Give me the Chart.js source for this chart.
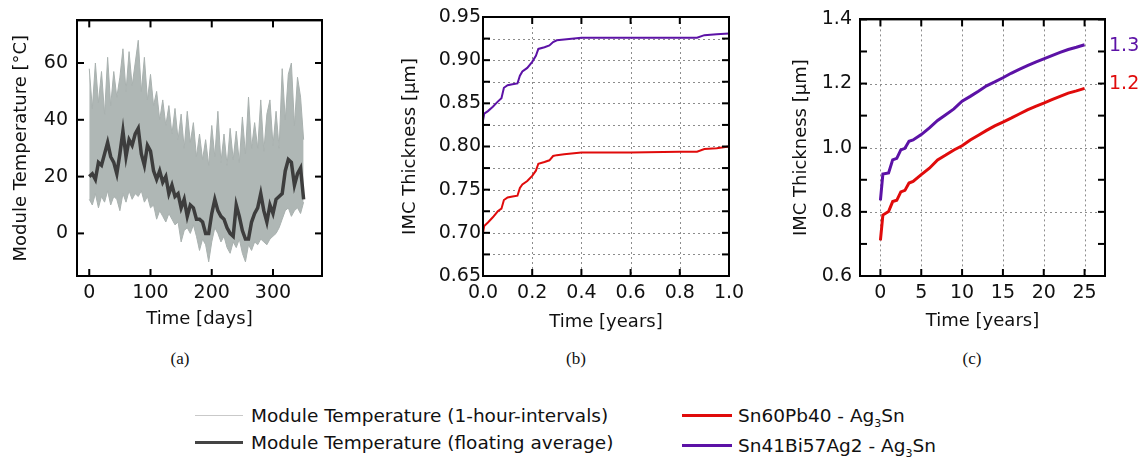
<!DOCTYPE html>
<html>
<head>
<meta charset="utf-8">
<script src="https://cdn.jsdelivr.net/npm/chart.js@4/dist/chart.umd.min.js"></script>
<style>
  body { margin: 0; background: #fff; width: 1147px; height: 459px; position: relative; overflow: hidden; font-family: "DejaVu Sans", sans-serif; }
  canvas { position: absolute; top: 0; }
  .cap { position: absolute; top: 349px; width: 40px; text-align: center; font: 17px "Liberation Serif", serif; color: #111; }
  .leg { position: absolute; height: 22px; display: flex; align-items: center; font-size: 18.5px; color: #111; white-space: nowrap; }
  .sw { display: inline-block; width: 48px; margin-right: 8px; }
  sub { font-size: 11px; vertical-align: -5px; line-height: 0; }
</style>
</head>
<body>
<canvas id="chartA" width="350" height="340" style="left:0px"></canvas>
<canvas id="chartB" width="380" height="340" style="left:380px"></canvas>
<canvas id="chartC" width="372" height="340" style="left:775px"></canvas>

<div class="cap" style="left:160px">(a)</div>
<div class="cap" style="left:556px">(b)</div>
<div class="cap" style="left:952px">(c)</div>

<div class="leg" style="left:195px;top:404px"><span class="sw" style="border-top:1px solid #c9c9c9"></span><span>Module Temperature (1-hour-intervals)</span></div>
<div class="leg" style="left:195px;top:431px"><span class="sw" style="border-top:3px solid #444"></span><span>Module Temperature (floating average)</span></div>
<div class="leg" style="left:682px;top:404px"><span class="sw" style="width:50px;margin-right:6px;border-top:3px solid #e00b0b"></span><span>Sn60Pb40 - Ag<sub>3</sub>Sn</span></div>
<div class="leg" style="left:682px;top:434px"><span class="sw" style="width:50px;margin-right:6px;border-top:3px solid #5c12a6"></span><span>Sn41Bi57Ag2 - Ag<sub>3</sub>Sn</span></div>

<script>
// ---- (a) module temperature, sampled every 5 days
const daysA = [0,5,10,15,20,25,30,35,40,45,50,55,60,65,70,75,80,85,90,95,
  100,105,110,115,120,125,130,135,140,145,150,155,160,165,170,175,180,185,190,195,
  200,205,210,215,220,225,230,235,240,245,250,255,260,265,270,275,280,285,290,295,
  300,305,310,315,320,325,330,335,340,345,350];
const tempHigh = [58,44,60,46,57,42,62,45,57,48,55,65,50,64,52,60,68,50,62,47,
  56,45,50,40,47,38,45,35,44,33,42,30,43,32,39,27,35,26,33,24,
  38,27,43,25,35,24,37,26,36,25,41,28,48,30,39,30,47,29,42,47,
  31,43,30,58,40,56,60,38,55,48,33];
const tempLow = [12,10,14,9,13,11,15,10,13,12,8,14,11,15,12,14,13,15,11,13,
  9,10,5,8,6,4,7,5,3,4,-3,1,2,0,3,-1,-6,-2,-4,-10,
  -3,2,0,-3,-1,-5,-7,-3,-5,-2,-7,-10,-4,-6,-3,-4,-2,-3,-4,-2,
  -1,0,2,5,8,9,6,8,9,7,11];
const tempAvg = [20,21,19,25,24,28,32,27,25,21,28,36,27,33,31,35,37,28,24,31,
  29,22,19,22,18,20,14,17,13,14,9,12,6,10,9,5,5,4,0,0,
  7,12,8,6,5,2,0,-1,10,6,1,-2,-2,4,7,9,14,8,4,10,
  7,12,13,14,22,26,25,17,21,23,12];
const aXTicks = [0, 100, 200, 300];
const aYTicks = [0, 20, 40, 60];

// ---- (b) IMC thickness, first year
const yearsB = [0,0.005,0.02,0.04,0.06,0.075,0.085,0.1,0.12,0.14,0.15,0.16,0.18,0.2,0.215,0.225,0.25,0.27,0.285,0.3,0.33,0.4,0.6,0.8,0.87,0.9,0.95,1.0];
const snPbB = [0.700,0.708,0.712,0.718,0.725,0.728,0.738,0.741,0.742,0.743,0.752,0.756,0.760,0.766,0.772,0.780,0.782,0.784,0.789,0.790,0.791,0.793,0.793,0.794,0.794,0.797,0.798,0.800];
const snBiB = [0.830,0.838,0.841,0.846,0.852,0.856,0.868,0.871,0.872,0.873,0.882,0.887,0.891,0.898,0.905,0.913,0.915,0.917,0.921,0.923,0.924,0.926,0.926,0.926,0.926,0.929,0.930,0.931];
const bXTicks = [0, 0.2, 0.4, 0.6, 0.8, 1.0];
const bYTicks = [0.65, 0.70, 0.75, 0.80, 0.85, 0.90, 0.95];
const bYGrid = [0.675, 0.70, 0.725, 0.75, 0.775, 0.80, 0.825, 0.85, 0.875, 0.90, 0.925];

// ---- (c) IMC thickness, 25 years
const yearsC = [0,0.3,1,1.5,2,2.5,3,3.5,4,5,6,7,8,9,10,11,12,13,14,15,16,17,18,19,20,21,22,23,24,25];
const snBiC = [0.836,0.918,0.921,0.962,0.967,0.993,0.998,1.020,1.024,1.041,1.062,1.085,1.103,1.121,1.145,1.160,1.176,1.193,1.205,1.218,1.232,1.244,1.256,1.267,1.277,1.287,1.297,1.306,1.313,1.321];
const snPbC = [0.711,0.790,0.801,0.832,0.836,0.862,0.867,0.890,0.895,0.916,0.936,0.962,0.977,0.993,1.006,1.024,1.039,1.054,1.068,1.080,1.092,1.105,1.118,1.129,1.139,1.150,1.160,1.170,1.177,1.185];
const cXTicks = [0, 5, 10, 15, 20, 25];
const cYTicks = [0.6, 0.8, 1.0, 1.2, 1.4];
const cYMinor = [0.7, 0.9, 1.1, 1.3];
const endLabels = ['1.3', '1.2'];
const endLabelAt = [1.317, 1.197];

const RED = '#e00b0b', PURPLE = '#5c12a6';

Chart.defaults.font.family = '"DejaVu Sans", sans-serif';
Chart.defaults.color = '#111';
Chart.defaults.animation = false;

const pts = (xs, ys) => xs.map((x, i) => ({ x: x, y: ys[i] }));

function seg(ctx, x1, y1, x2, y2) {
  ctx.beginPath(); ctx.moveTo(x1, y1); ctx.lineTo(x2, y2); ctx.stroke();
}

// box frame with inward ticks, drawn as filled bars
function drawBox(ctx, a, x, y, o) {
  const t = 7;
  const w = a.right - a.left, h = a.bottom - a.top;
  ctx.save();
  ctx.fillStyle = '#000000';
  ctx.fillRect(a.left - 1, a.top - 1, w + 2, 2);
  ctx.fillRect(a.left - 1, a.bottom - 1, w + 2, 2);
  ctx.fillRect(a.left - 1, a.top - 1, 2, h + 2);
  ctx.fillRect(a.right - 1, a.top - 1, 2, h + 2);
  o.xTicks.forEach(v => {
    const p = x.getPixelForValue(v);
    ctx.fillRect(p - 1, a.bottom - t, 2, t);
    ctx.fillRect(p - 1, a.top, 2, t);
  });
  o.yTicks.forEach(v => {
    const p = y.getPixelForValue(v);
    ctx.fillRect(a.left, p - 1, t, 2);
    ctx.fillRect(a.right - t, p - 1, t, 2);
  });
  ctx.restore();
}

function makeFrame(o) {
  return {
    id: 'boxframe',
    beforeDatasetsDraw(chart) {
      const { ctx, chartArea: a, scales: { x, y } } = chart;
      ctx.save();
      ctx.strokeStyle = '#8c8c8c';
      ctx.lineWidth = 1;
      // dotted grid, drawn as short pieces
      (o.xGrid || []).forEach(v => {
        const p = Math.round(x.getPixelForValue(v)) + 0.5;
        for (let s = a.top; s < a.bottom; s += 5) seg(ctx, p, s, p, Math.min(s + 2, a.bottom));
      });
      (o.yGrid || []).forEach(v => {
        const p = Math.round(y.getPixelForValue(v)) + 0.5;
        for (let s = a.left; s < a.right; s += 5) seg(ctx, s, p, Math.min(s + 2, a.right), p);
      });
      ctx.restore();
    },
    afterDraw(chart) {
      const { ctx, chartArea: a, scales: { x, y } } = chart;
      drawBox(ctx, a, x, y, o);
      if (o.labels) {
        ctx.save();
        ctx.font = '19px "DejaVu Sans", sans-serif';
        ctx.textBaseline = 'middle';
        ctx.textAlign = 'left';
        o.labels.forEach((txt, i) => {
          ctx.fillStyle = o.labelColors[i];
          ctx.fillText(txt, a.right + 4, y.getPixelForValue(o.labelAt[i]));
        });
        ctx.restore();
      }
    }
  };
}

function axis(min, max, ticks, fmt, size, tickPad, title, titlePad) {
  return {
    type: 'linear', min: min, max: max,
    grid: { display: false, drawTicks: false },
    border: { display: true, color: '#000', width: 2 },
    afterBuildTicks: s => { s.ticks = ticks.map(v => ({ value: v })); },
    afterFit: s => { if (s.isHorizontal()) s.height = size; else s.width = size; },
    ticks: { font: { size: 19 }, color: '#111', padding: tickPad, callback: fmt, maxRotation: 0, autoSkip: false },
    title: { display: true, text: title, font: { size: 18 }, color: '#111', padding: titlePad }
  };
}

// empty top / right axes that only add the other two sides of the box
function edge(min, max, pos) {
  return {
    type: 'linear', min: min, max: max, position: pos,
    grid: { display: false, drawTicks: false },
    border: { display: true, color: '#000', width: 2 },
    ticks: { display: false },
    afterFit: s => { if (s.isHorizontal()) s.height = 0; else s.width = 0; }
  };
}

new Chart(document.getElementById('chartA'), {
  type: 'line',
  data: {
    datasets: [
      { label: 'Module Temperature (floating average)', data: pts(daysA, tempAvg), borderColor: '#3d3d3d', borderWidth: 3.5, pointRadius: 0, fill: false },
      { label: 'low', data: pts(daysA, tempLow), borderColor: '#a9b1af', borderWidth: 1, pointRadius: 0, fill: false },
      { label: 'Module Temperature (1-hour-intervals)', data: pts(daysA, tempHigh), borderColor: '#a9b1af', borderWidth: 1, pointRadius: 0, fill: 1, backgroundColor: '#afb7b5' }
    ]
  },
  options: {
    responsive: false,
    layout: { padding: { top: 16, right: 28, left: 0, bottom: 0 } },
    plugins: { legend: { display: false }, tooltip: { enabled: false } },
    scales: {
      x: axis(-20, 380, aXTicks, v => String(v), 64, 6, 'Time [days]', { bottom: 10 }),
      y: axis(-15, 75, aYTicks, v => String(v), 77, 9, 'Module Temperature [°C]', { top: 11 }),
      x2: edge(-20, 380, 'top'),
      y2: edge(-15, 75, 'right')
    }
  },
  plugins: [makeFrame({ xTicks: aXTicks, yTicks: aYTicks })]
});

new Chart(document.getElementById('chartB'), {
  type: 'line',
  data: {
    datasets: [
      { label: 'Sn41Bi57Ag2 - Ag3Sn', data: pts(yearsB, snBiB), borderColor: PURPLE, borderWidth: 2, pointRadius: 0, fill: false },
      { label: 'Sn60Pb40 - Ag3Sn', data: pts(yearsB, snPbB), borderColor: RED, borderWidth: 2, pointRadius: 0, fill: false }
    ]
  },
  options: {
    responsive: false,
    layout: { padding: { top: 17, right: 31, left: 0, bottom: 0 } },
    plugins: { legend: { display: false }, tooltip: { enabled: false } },
    scales: {
      x: axis(0, 1, bXTicks, v => v.toFixed(1), 64, 6, 'Time [years]', { bottom: 7 }),
      y: axis(0.65, 0.95, bYTicks, v => v.toFixed(2), 103, 2, 'IMC Thickness [µm]', { top: 20 }),
      x2: edge(0, 1, 'top'),
      y2: edge(0.65, 0.95, 'right')
    }
  },
  plugins: [makeFrame({ xTicks: bXTicks, yTicks: bYGrid, xGrid: [0.2, 0.4, 0.6, 0.8], yGrid: bYGrid })]
});

new Chart(document.getElementById('chartC'), {
  type: 'line',
  data: {
    datasets: [
      { label: 'Sn41Bi57Ag2 - Ag3Sn', data: pts(yearsC, snBiC), borderColor: PURPLE, borderWidth: 3, pointRadius: 0, fill: false },
      { label: 'Sn60Pb40 - Ag3Sn', data: pts(yearsC, snPbC), borderColor: RED, borderWidth: 3, pointRadius: 0, fill: false }
    ]
  },
  options: {
    responsive: false,
    layout: { padding: { top: 16, right: 42, left: 0, bottom: 0 } },
    plugins: { legend: { display: false }, tooltip: { enabled: false } },
    scales: {
      x: axis(-2.5, 27.5, cXTicks, v => String(v), 64, 6, 'Time [years]', { bottom: 8 }),
      y: axis(0.6, 1.4, cYTicks, v => v.toFixed(1), 85, 8, 'IMC Thickness [µm]', { top: 16 }),
      x2: edge(-2.5, 27.5, 'top'),
      y2: edge(0.6, 1.4, 'right')
    }
  },
  plugins: [makeFrame({ xTicks: cXTicks, yTicks: cYTicks.concat(cYMinor), xGrid: cXTicks, yGrid: [0.8, 1.0, 1.2],
    labels: endLabels, labelAt: endLabelAt, labelColors: [PURPLE, RED] })]
});
</script>
</body>
</html>
